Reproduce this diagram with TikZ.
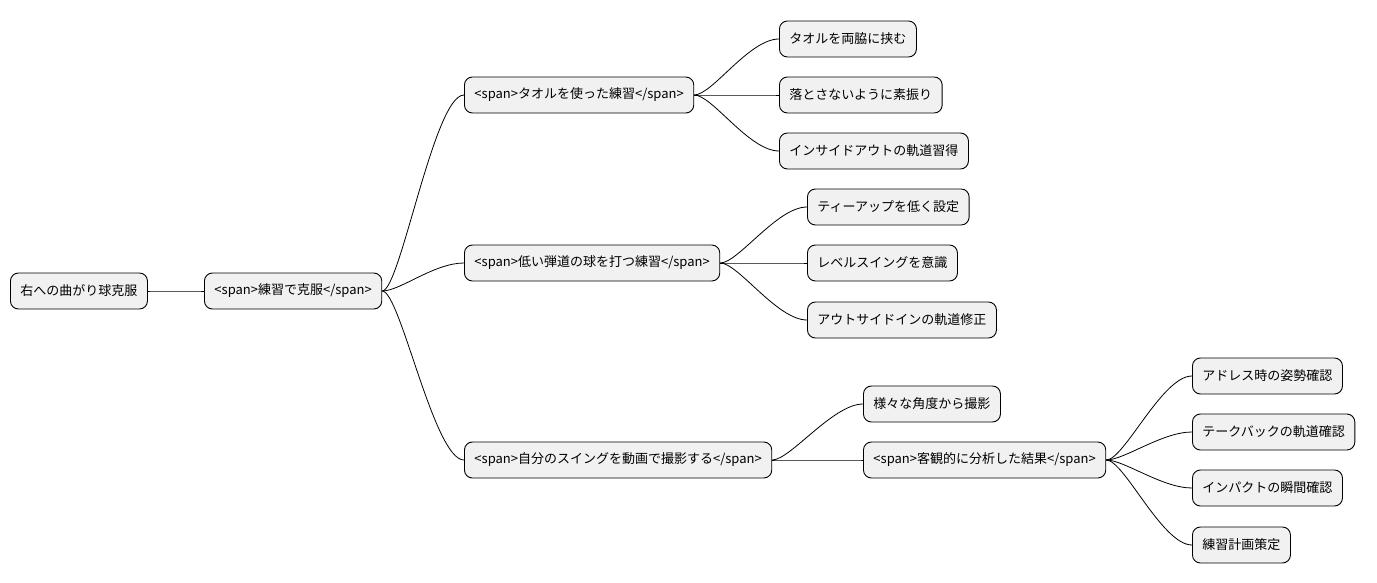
\documentclass[tikz,border=0pt]{standalone}
\usetikzlibrary{calc}
\usepackage{fontspec}
\setmainfont{Noto Sans CJK JP}
\begin{document}
\begin{tikzpicture}[x=1pt,y=-1pt,
  box/.style={draw=black,line width=0.9pt,fill={rgb,255:red,241;green,241;blue,241},rounded corners=8pt,minimum height=36pt,inner xsep=10pt,anchor=west,font=\fontsize{13pt}{15pt}\selectfont},
  link/.style={draw=black,line width=0.8pt}]
\useasboundingbox (0,0) rectangle (1377,583);
\node[box] (r) at (10,291) {右への曲がり球克服};
\node[box] (a) at (204,291) {<span>練習で克服</span>};
\node[box] (t) at (464,95) {<span>タオルを使った練習</span>};
\node[box] (l) at (464,263) {<span>低い弾道の球を打つ練習</span>};
\node[box] (v) at (464,460) {<span>自分のスイングを動画で撮影する</span>};
\node[box] (t1) at (779,39) {タオルを両脇に挟む};
\node[box] (t2) at (779,95) {落とさないように素振り};
\node[box] (t3) at (779,151) {インサイドアウトの軌道習得};
\node[box] (l1) at (807,207) {ティーアップを低く設定};
\node[box] (l2) at (807,263) {レベルスイングを意識};
\node[box] (l3) at (807,320) {アウトサイドインの軌道修正};
\node[box] (v1) at (863,404) {様々な角度から撮影};
\node[box] (v2) at (863,460) {<span>客観的に分析した結果</span>};
\node[box] (k1) at (1192,376) {アドレス時の姿勢確認};
\node[box] (k2) at (1192,432) {テークバックの軌道確認};
\node[box] (k3) at (1192,488) {インパクトの瞬間確認};
\node[box] (k4) at (1192,545) {練習計画策定};
\foreach \p/\c in {r/a,a/t,a/l,a/v,t/t1,t/t2,t/t3,l/l1,l/l2,l/l3,v/v1,v/v2,v2/k1,v2/k2,v2/k3,v2/k4}
  \draw[link] (\p.east) .. controls ($(\p.east)+(18,0)$) and ($(\c.west)+(-30,0)$) .. (\c.west);
\end{tikzpicture}
\end{document}
